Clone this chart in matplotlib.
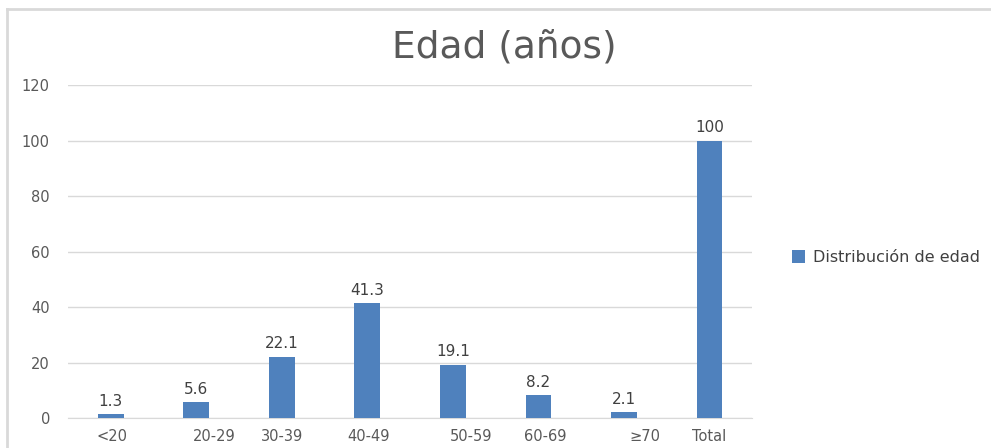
import matplotlib.pyplot as plt
from matplotlib.lines import Line2D

# grupos de edad y porcentaje de pacientes
grupos = ['<20', '20-29', '30-39', '40-49', '50-59', '60-69', '≥70', 'Total']
porcentajes = [1.3, 5.6, 22.1, 41.3, 19.1, 8.2, 2.1, 100]
serie = 'Distribución de edad'

# corrimiento de cada etiqueta del eje x respecto a su barra (en anchos de categoría)
desplaz_etiquetas = [0.02, 0.21, 0.0, 0.01, 0.21, 0.08, 0.25, 0.0]

plt.rcParams['font.family'] = ['DejaVu Sans']

fig = plt.figure(figsize=(9.91, 4.48), dpi=100)
ax = fig.add_axes([0.0686, 0.067, 0.6904, 0.743])

x = list(range(len(grupos)))
barras = ax.bar(x, porcentajes, width=0.30, color='#4f81bd', label=serie, zorder=3)
ax.bar_label(barras, labels=[f'{v:g}' for v in porcentajes], padding=4,
             fontsize=11, color='#404040')

ax.set_xlim(-0.5, len(grupos) - 0.5)
ax.set_ylim(0, 120)
ax.set_yticks(range(0, 121, 20))
ax.yaxis.grid(True, color='#d9d9d9', linewidth=1, zorder=0)
ax.set_axisbelow(True)

ax.set_xticks([i + d for i, d in zip(x, desplaz_etiquetas)])
ax.set_xticklabels(grupos)

ax.tick_params(axis='both', length=0, labelsize=10.5, colors='#595959')
ax.tick_params(axis='x', pad=8)
ax.tick_params(axis='y', pad=13)
for s in ['top', 'right', 'left']:
    ax.spines[s].set_visible(False)
ax.spines['bottom'].set_color('#d9d9d9')

fig.text(0.509, 0.895, 'Edad (años)', ha='center', va='center',
         fontsize=27, color='#595959')

fig.legend(loc='center left', bbox_to_anchor=(0.785, 0.425), frameon=False,
           fontsize=11.5, labelcolor='#404040', handlelength=0.8, handleheight=0.8,
           handletextpad=0.5)

# marco gris superior e izquierdo
fig.add_artist(Line2D([0.0075, 1], [0.979, 0.979], color='#d9d9d9', linewidth=2))
fig.add_artist(Line2D([0.0075, 0.0075], [0, 0.979], color='#d9d9d9', linewidth=2))

fig.savefig('out.png', dpi=100, facecolor='white')
